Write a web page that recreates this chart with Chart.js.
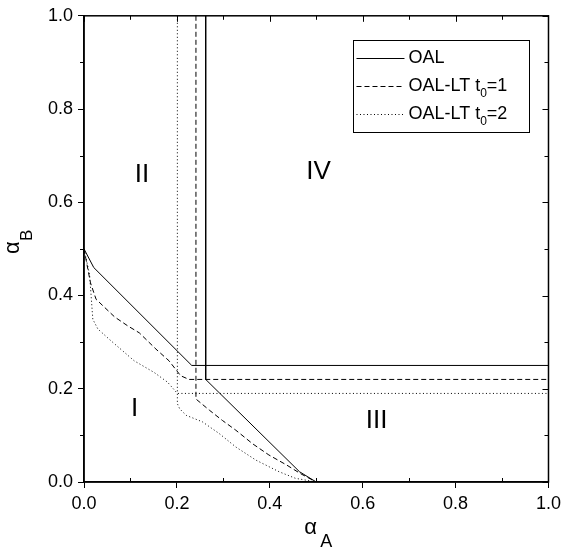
<!DOCTYPE html>
<html>
<head>
<meta charset="utf-8">
<script src="https://cdn.jsdelivr.net/npm/chart.js@4.4.0/dist/chart.umd.min.js"></script>
<style>
  html, body { margin: 0; padding: 0; background: #fff; }
</style>
</head>
<body>
<canvas id="chart" width="566" height="549"></canvas>
<script>
// Region boundaries (alpha_A on x, alpha_B on y)
const oalLowX = [0, 0.021, 0.232, 1.0];
const oalLowY = [0.5, 0.46, 0.25, 0.25];
const oalHighX = [0.262, 0.262, 0.464, 0.5];
const oalHighY = [1.0, 0.22, 0.022, 0];

const lt1LowX = [0, 0.014, 0.026, 0.066, 0.094, 0.119, 0.155, 0.183, 0.208, 0.226, 1.0];
const lt1LowY = [0.5, 0.427, 0.392, 0.354, 0.335, 0.32, 0.285, 0.26, 0.228, 0.22, 0.22];
const lt1HighX = [0.241, 0.241, 0.27, 0.298, 0.327, 0.363, 0.398, 0.437, 0.466, 0.5];
const lt1HighY = [1.0, 0.178, 0.154, 0.132, 0.111, 0.082, 0.058, 0.036, 0.018, 0];

const lt2LowX = [0, 0.012, 0.019, 0.03, 0.058, 0.108, 0.151, 0.18, 0.201, 1.0];
const lt2LowY = [0.5, 0.445, 0.349, 0.328, 0.303, 0.26, 0.235, 0.214, 0.19, 0.19];
const lt2HighX = [0.201, 0.201, 0.206, 0.22, 0.255, 0.291, 0.327, 0.37, 0.42, 0.455, 0.5];
const lt2HighY = [1.0, 0.168, 0.157, 0.143, 0.129, 0.104, 0.075, 0.047, 0.022, 0.008, 0];

const tickValues = [0, 0.1, 0.2, 0.3, 0.4, 0.5, 0.6, 0.7, 0.8, 0.9, 1.0];

const regionNames = ['I', 'II', 'III', 'IV'];
const regionX = [0.109, 0.125, 0.63, 0.505];
const regionY = [0.158, 0.659, 0.132, 0.665];

const legendMain = ['OAL', 'OAL-LT t', 'OAL-LT t'];
const legendSub = ['', '0', '0'];
const legendTail = ['', '=1', '=2'];

const FONT = 'Arial, "Liberation Sans", sans-serif';
const DASHED = [5, 3];
const DOTTED = [1, 2.5];

function pts(xs, ys) {
    return xs.map(function(x, i) { return { x: x, y: ys[i] }; });
}

function line(label, xs, ys, dash) {
    return {
        label: label,
        data: pts(xs, ys),
        showLine: true,
        borderColor: '#000',
        borderWidth: 1,
        borderDash: dash,
        pointRadius: 0,
        tension: 0,
        fill: false
    };
}

// frame, inner ticks, region names, axis titles and the boxed legend
const decorations = {
    id: 'decorations',
    afterDraw: function(chart) {
        const c = chart.ctx;
        const a = chart.chartArea;
        const xs = chart.scales.x;
        const ys = chart.scales.y;
        c.save();
        c.strokeStyle = '#000';
        c.fillStyle = '#000';
        c.lineWidth = 1.5;
        c.strokeRect(a.left, a.top, a.right - a.left, a.bottom - a.top);

        c.lineWidth = 1;
        tickValues.forEach(function(v, i) {
            const major = i % 2 === 0;
            const len = major ? 6 : 4;
            const px = Math.round(xs.getPixelForValue(v)) + 0.5;
            const py = Math.round(ys.getPixelForValue(v)) + 0.5;
            c.beginPath();
            // top and right: inward
            c.moveTo(px, a.top); c.lineTo(px, a.top + len);
            c.moveTo(a.right, py); c.lineTo(a.right - len, py);
            if (!major) {
                c.moveTo(px, a.bottom); c.lineTo(px, a.bottom - len);
                c.moveTo(a.left, py); c.lineTo(a.left - len, py);
            }
            c.stroke();
        });

        // region names
        c.font = '26px ' + FONT;
        c.textAlign = 'center';
        c.textBaseline = 'middle';
        regionNames.forEach(function(n, i) {
            c.fillText(n, xs.getPixelForValue(regionX[i]), ys.getPixelForValue(regionY[i]));
        });

        // axis titles
        c.textAlign = 'left';
        c.textBaseline = 'alphabetic';
        const midX = (a.left + a.right) / 2;
        c.font = '22px ' + FONT;
        c.fillText('\u03b1', midX - 12, 534);
        c.font = '18px ' + FONT;
        c.fillText('A', midX + 4, 547);

        c.save();
        c.translate(19, 254);
        c.rotate(-Math.PI / 2);
        c.font = '22px ' + FONT;
        c.fillText('\u03b1', 0, 0);
        c.font = '17px ' + FONT;
        c.fillText('B', 13, 13);
        c.restore();

        // legend box
        const bx = a.right - 195, by = a.top + 24, bw = 176, bh = 92;
        c.lineWidth = 1;
        c.strokeRect(Math.round(bx) + 0.5, Math.round(by) + 0.5, bw, bh);
        const dashes = [[], DASHED, DOTTED];
        for (let i = 0; i < legendMain.length; i++) {
            const ry = by + 18 + i * 28;
            c.setLineDash(dashes[i]);
            c.beginPath();
            c.moveTo(bx + 3, Math.round(ry) + 0.5);
            c.lineTo(bx + 51, Math.round(ry) + 0.5);
            c.stroke();
            c.setLineDash([]);
            c.font = '18px ' + FONT;
            c.textBaseline = 'middle';
            let tx = bx + 55;
            c.fillText(legendMain[i], tx, ry);
            tx += c.measureText(legendMain[i]).width;
            if (legendSub[i]) {
                c.font = '12px ' + FONT;
                c.fillText(legendSub[i], tx, ry + 8);
                tx += c.measureText(legendSub[i]).width;
                c.font = '18px ' + FONT;
                c.fillText(legendTail[i], tx, ry);
            }
        }
        c.restore();
    }
};

function axis(fitKey, fitSize) {
    return {
        type: 'linear',
        min: 0,
        max: 1,
        ticks: {
            stepSize: 0.2,
            color: '#000',
            padding: 5,
            font: { family: FONT, size: 18 },
            callback: function(v) { return Number(v).toFixed(1); }
        },
        grid: {
            drawOnChartArea: false,
            drawTicks: true,
            tickLength: 6,
            color: '#000'
        },
        border: { display: true, color: '#000', width: 1.5 },
        afterFit: function(scale) { scale[fitKey] = fitSize; }
    };
}

new Chart(document.getElementById('chart'), {
    type: 'scatter',
    data: {
        datasets: [
            line('OAL', oalLowX, oalLowY, []),
            line('OAL', oalHighX, oalHighY, []),
            line('OAL-LT t0=1', lt1LowX, lt1LowY, DASHED),
            line('OAL-LT t0=1', lt1HighX, lt1HighY, DASHED),
            line('OAL-LT t0=2', lt2LowX, lt2LowY, DOTTED),
            line('OAL-LT t0=2', lt2HighX, lt2HighY, DOTTED)
        ]
    },
    options: {
        responsive: false,
        animation: false,
        devicePixelRatio: 1,
        layout: { padding: { top: 13, right: 15, left: 0, bottom: 0 } },
        plugins: {
            legend: { display: false },
            tooltip: { enabled: false }
        },
        scales: {
            x: Object.assign(axis('height', 67), { position: 'bottom' }),
            y: Object.assign(axis('width', 84), { position: 'left' })
        }
    },
    plugins: [decorations]
});
</script>
</body>
</html>
